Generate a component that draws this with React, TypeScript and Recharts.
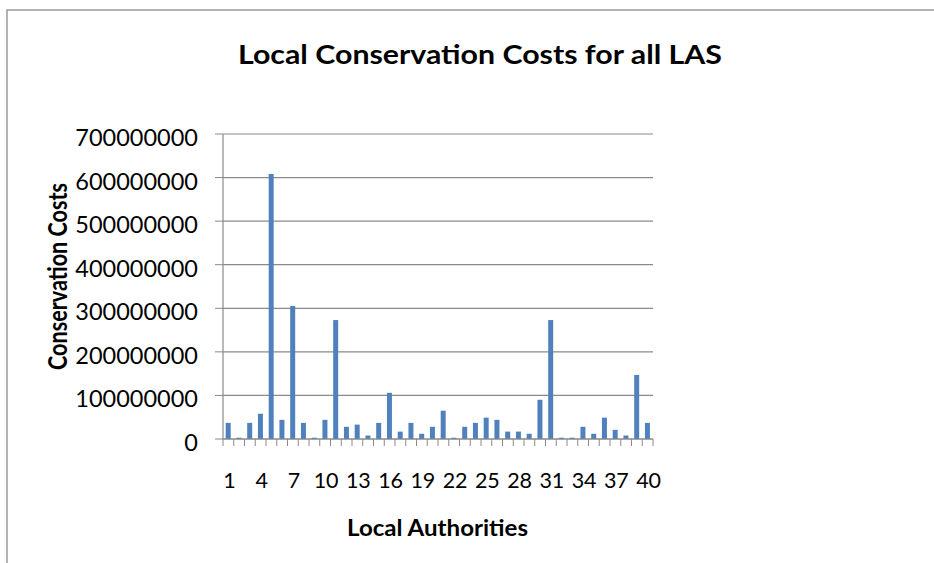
import React from "react";
import { BarChart, Bar, XAxis, YAxis, CartesianGrid } from "recharts";

const authorities: string[] = Array.from({ length: 40 }, (_, i) => String(i + 1));
const costs: number[] = [
  37000000, 3000000, 37000000, 58000000, 608000000, 44000000, 305000000, 37000000, 3000000, 44000000,
  273000000, 28000000, 33000000, 8000000, 37000000, 106000000, 17000000, 37000000, 12000000, 28000000,
  65000000, 3000000, 28000000, 37000000, 49000000, 44000000, 17000000, 17000000, 12000000, 90000000,
  273000000, 3000000, 3000000, 28000000, 12000000, 49000000, 21000000, 8000000, 147000000, 37000000,
];
const yTicks: number[] = [0, 100000000, 200000000, 300000000, 400000000, 500000000, 600000000, 700000000];

const title = "Local Conservation Costs for all LAS";
const xTitle = "Local Authorities";
const yTitle = "Conservation Costs";

const data = authorities.map((a, i) => ({ name: a, cost: costs[i] }));

const W = 934;
const H = 563;
const PLOT_LEFT = 223;
const PLOT_RIGHT = 653;
const PLOT_TOP = 134;
const PLOT_BOTTOM = 439;
const BAND = (PLOT_RIGHT - PLOT_LEFT) / authorities.length;
const AXIS_COLOR = "#8a8a8a";
const FONT = "Lato, 'DejaVu Sans', sans-serif";

const XTick = (props: any) => {
  const { x, y, payload, index } = props;
  const showLabel = index % 3 === 0;
  return (
    <g>
      <line x1={x - BAND / 2} x2={x - BAND / 2} y1={y} y2={y + 7} stroke={AXIS_COLOR} strokeWidth={1} />
      {index === authorities.length - 1 && (
        <line x1={x + BAND / 2} x2={x + BAND / 2} y1={y} y2={y + 7} stroke={AXIS_COLOR} strokeWidth={1} />
      )}
      {showLabel && (
        <text x={x + 1} y={y + 49} textAnchor="middle" fontFamily={FONT} fontSize={21.5} fill="#000">
          {payload.value}
        </text>
      )}
    </g>
  );
};

const YTick = (props: any) => {
  const { x, y, payload } = props;
  return (
    <text x={x} y={y + 12} textAnchor="end" fontFamily={FONT} fontSize={23.5} fill="#000">
      {payload.value}
    </text>
  );
};

export default function App() {
  return (
    <div style={{ position: "absolute", left: 0, top: 0, width: W, height: H, overflow: "hidden", background: "#fff" }}>
      <BarChart
        width={W}
        height={H}
        data={data}
        margin={{ top: PLOT_TOP, right: W - PLOT_RIGHT, bottom: H - PLOT_BOTTOM - 60, left: 0 }}
        barCategoryGap="25%"
      >
        <CartesianGrid horizontal={true} vertical={false} stroke={AXIS_COLOR} strokeWidth={1.2} />
        <XAxis
          dataKey="name"
          height={60}
          interval={0}
          tickLine={false}
          tickSize={0}
          tickMargin={0}
          axisLine={{ stroke: AXIS_COLOR, strokeWidth: 1.2 }}
          tick={<XTick />}
        />
        <YAxis
          width={PLOT_LEFT}
          domain={[0, 700000000]}
          ticks={yTicks}
          interval={0}
          tickSize={8}
          tickMargin={17}
          tickLine={{ stroke: AXIS_COLOR }}
          axisLine={{ stroke: AXIS_COLOR, strokeWidth: 1.2 }}
          tick={<YTick />}
        />
        <Bar dataKey="cost" fill="#4F81BD" isAnimationActive={false} />
      </BarChart>
      <svg
        width={W}
        height={H}
        style={{ position: "absolute", left: 0, top: 0, pointerEvents: "none" }}
      >
        <rect x={7} y={10} width={1000} height={1000} fill="none" stroke="#9a9a9a" strokeWidth={1.5} />
        <text x={480} y={64} textAnchor="middle" fontFamily={FONT} fontWeight="bold" fontSize={26.5} fill="#000" textLength={484} lengthAdjust="spacingAndGlyphs">
          {title}
        </text>
        <text x={437.5} y={536} textAnchor="middle" fontFamily={FONT} fontWeight="bold" fontSize={23} fill="#000" textLength={181} lengthAdjust="spacingAndGlyphs">
          {xTitle}
        </text>
        <text
          x={67}
          y={276.5}
          transform="rotate(-90 67 276.5)"
          textAnchor="middle"
          fontFamily={FONT}
          fontWeight="bold"
          fontSize={26}
          fill="#000"
          textLength={187}
          lengthAdjust="spacingAndGlyphs"
        >
          {yTitle}
        </text>
      </svg>
    </div>
  );
}
